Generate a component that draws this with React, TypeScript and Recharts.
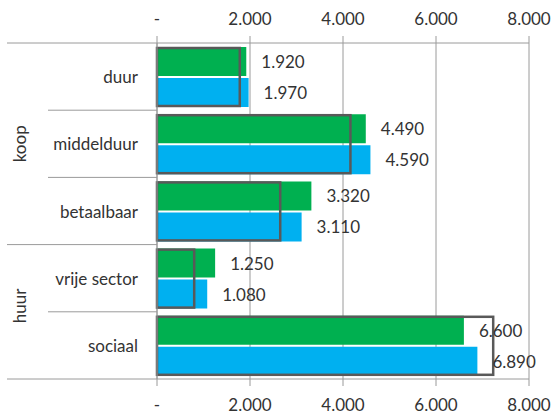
import React from 'react';
import { BarChart, Bar, XAxis, YAxis, CartesianGrid, LabelList } from 'recharts';

const categories = ['duur', 'middelduur', 'betaalbaar', 'vrije sector', 'sociaal'];
const greenValues = [1920, 4490, 3320, 1250, 6600];
const blueValues = [1970, 4590, 3110, 1080, 6890];
const boxValues = [1780, 4160, 2650, 800, 7230];
const groups = [
  { label: 'koop', start: 0, count: 3 },
  { label: 'huur', start: 3, count: 2 },
];
const xTicks = [0, 2000, 4000, 6000, 8000];

const data = categories.map((name, i) => ({
  name,
  green: greenValues[i],
  blue: blueValues[i],
  box: boxValues[i],
}));

const FONT = 'Lato, "Open Sans", sans-serif';
const TEXT = '#333333';
const LINE = '#9a9a9a';

const fmt = (v: number) => (v === 0 ? '-' : String(v).replace(/\B(?=(\d{3})+(?!\d))/g, '.'));

const CategoryTick = (props: any) => {
  const { x, y, payload, index } = props;
  const half = payload && payload.offset ? payload.offset : 33.6;
  const top = y - half;
  const groupStart = groups.find((g) => g.start === index);
  const isLast = index === categories.length - 1;
  const axisX = x + 8;
  const gy = top + (groupStart ? groupStart.count * half : 0) - (groupStart && groupStart.start > 0 ? 6 : 0);
  return (
    <g>
      <line x1={groupStart ? 7 : 48} x2={axisX} y1={top} y2={top} stroke={LINE} strokeWidth={1} />
      {isLast && <line x1={7} x2={axisX} y1={y + half} y2={y + half} stroke={LINE} strokeWidth={1} />}
      <text x={axisX - 19} y={y} textAnchor="end" dominantBaseline="central" fill={TEXT} fontSize={17} fontFamily={FONT}>
        {payload.value}
      </text>
      {groupStart && (
        <text
          x={20}
          y={gy}
          transform={`rotate(-90 20 ${gy})`}
          textAnchor="middle"
          dominantBaseline="central"
          fill={TEXT}
          fontSize={17}
          fontFamily={FONT}
        >
          {groupStart.label}
        </text>
      )}
    </g>
  );
};

const ValueLabel = (props: any) => {
  const { x, y, width, height, value } = props;
  return (
    <text x={x + width + 15} y={y + height / 2} dominantBaseline="central" fill={TEXT} fontSize={17} fontFamily={FONT}>
      {fmt(value)}
    </text>
  );
};

const BoxShape = (props: any) => {
  const { x, y, width, height } = props;
  return <rect x={x} y={y} width={width} height={height} fill="none" stroke="#595959" strokeWidth={2.5} />;
};

export default function App() {
  return (
    <div style={{ position: 'absolute', left: 0, top: 0, width: 553, height: 414, background: '#fff' }}>
      <BarChart
        width={553}
        height={414}
        data={data}
        layout="vertical"
        margin={{ top: 0, right: 24, bottom: 0, left: 0 }}
        barCategoryGap={4}
        barGap={2}
      >
        <CartesianGrid horizontal={false} vertical stroke={LINE} />
        <XAxis
          type="number"
          domain={[0, 8000]}
          ticks={xTicks}
          tickFormatter={fmt}
          height={35}
          tickSize={7}
          tickMargin={13}
          stroke={LINE}
          tick={{ fill: TEXT, fontSize: 17, fontFamily: FONT }}
        />
        <XAxis
          xAxisId="top"
          orientation="top"
          type="number"
          domain={[0, 8000]}
          ticks={xTicks}
          tickFormatter={fmt}
          height={43}
          tickSize={7}
          tickMargin={11}
          stroke={LINE}
          tick={{ fill: TEXT, fontSize: 17, fontFamily: FONT }}
        />
        <YAxis
          type="category"
          dataKey="name"
          width={157}
          tickLine={false}
          stroke={LINE}
          tick={<CategoryTick />}
          interval={0}
        />
        <YAxis yAxisId="box" type="category" dataKey="name" hide />
        <Bar dataKey="green" fill="#00B050" isAnimationActive={false}>
          <LabelList dataKey="green" content={<ValueLabel />} />
        </Bar>
        <Bar dataKey="blue" fill="#00B0F0" isAnimationActive={false}>
          <LabelList dataKey="blue" content={<ValueLabel />} />
        </Bar>
        <Bar
          dataKey="box"
          xAxisId="top"
          yAxisId="box"
          barSize={58}
          shape={<BoxShape />}
          isAnimationActive={false}
        />
      </BarChart>
    </div>
  );
}
